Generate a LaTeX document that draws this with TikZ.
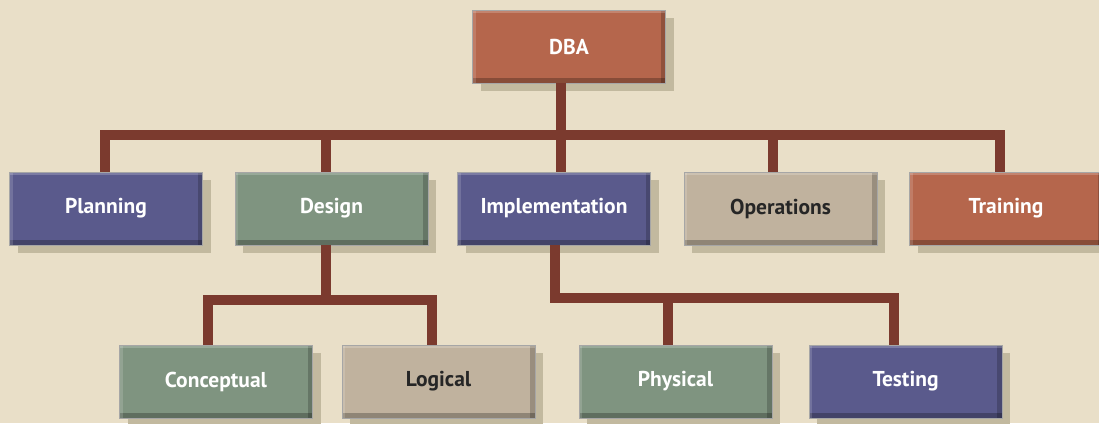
\documentclass[tikz,border=0pt]{standalone}
\usepackage{fontspec}
\setmainfont{PT Sans}
\usepackage{tikz}
\usetikzlibrary{positioning,shadows}
\usepackage{xcolor}

\definecolor{paper}{HTML}{E9DFC8}
\definecolor{rust}{HTML}{B5664C}
\definecolor{slate}{HTML}{5A5A8C}
\definecolor{sage}{HTML}{7F9480}
\definecolor{sand}{HTML}{C0B29E}
\definecolor{wire}{HTML}{7B3A2E}
\definecolor{shade}{HTML}{C2B99F}

\begin{document}
\begin{tikzpicture}[
  x=1pt, y=-1pt,
  font=\fontsize{21.5}{24}\selectfont\bfseries,
  box/.style={rectangle, draw=gray!70, line width=0.8pt,
              minimum width=193pt, minimum height=73pt, inner sep=0pt,
              drop shadow={shadow xshift=8pt, shadow yshift=-8pt, fill=shade, opacity=1},
              path picture={
                \fill[black, opacity=0.25] (path picture bounding box.south west)
                  rectangle ([yshift=5pt]path picture bounding box.south east);
                \fill[black, opacity=0.2] ([xshift=-5pt]path picture bounding box.south east)
                  rectangle (path picture bounding box.north east);
                \fill[white, opacity=0.2] (path picture bounding box.north west)
                  rectangle ([yshift=-3pt]path picture bounding box.north east);
                \fill[white, opacity=0.15] (path picture bounding box.north west)
                  rectangle ([xshift=3pt]path picture bounding box.south west);
              }},
  redbox/.style={box, fill=rust, text=white},
  bluebox/.style={box, fill=slate, text=white},
  greenbox/.style={box, fill=sage, text=white},
  tanbox/.style={box, fill=sand, text=black!85},
  link/.style={draw=wire, line width=10pt},
]

\fill[paper] (0,0) rectangle (1099,423);
\useasboundingbox (0,0) rectangle (1099,423);

% junction points of the bars
\coordinate (topbar) at (561,135);
\coordinate (designbar) at (326,300);
\coordinate (implbar) at (555,298);

\node[redbox] (DBA) at (569,46.5) {DBA};

\node[bluebox]  (PL) at (106,208.5)   {Planning};
\node[greenbox] (DE) at (331.5,208.5) {Design};
\node[bluebox]  (IM) at (554,208.5)   {Implementation};
\node[tanbox]   (OP) at (780.5,208.5) {Operations};
\node[redbox]   (TR) at (1006,208.5)  {Training};

\node[greenbox] (CO) at (216,381.5)   {Conceptual};
\node[tanbox]   (LO) at (438.5,381.5) {Logical};
\node[greenbox] (PH) at (675.5,381.5) {Physical};
\node[bluebox]  (TE) at (905.5,381.5) {Testing};

\draw[link] ([xshift=-8pt]DBA.south) -- (topbar);
\draw[link] ([xshift=-1pt]PL.north) |- (topbar) -| ([xshift=-6pt]TR.north);
\draw[link] ([xshift=-5.5pt]DE.north) -- ([xshift=-5.5pt]DE.north |- topbar);
\draw[link] ([xshift=7pt]IM.north) -- ([xshift=7pt]IM.north |- topbar);
\draw[link] ([xshift=-7.5pt]OP.north) -- ([xshift=-7.5pt]OP.north |- topbar);

\draw[link] ([xshift=-5.5pt]DE.south) -- (designbar);
\draw[link] ([xshift=-8pt]CO.north) |- (designbar) -| ([xshift=-6.5pt]LO.north);

\draw[link] ([xshift=1pt]IM.south) |- (implbar) -| ([xshift=-11.5pt]TE.north);
\draw[link] ([xshift=-7.5pt]PH.north) -- ([xshift=-7.5pt]PH.north |- implbar);

\end{tikzpicture}
\end{document}
